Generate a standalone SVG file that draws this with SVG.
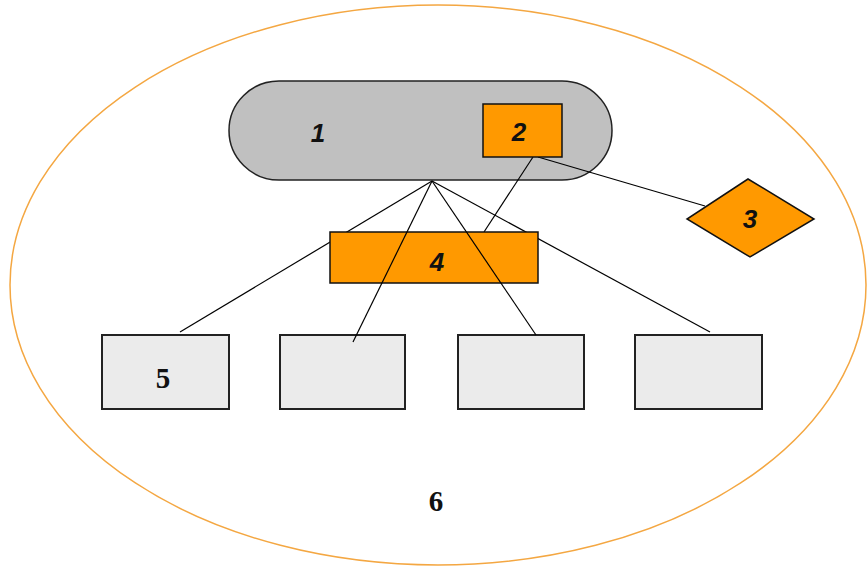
<svg xmlns="http://www.w3.org/2000/svg" width="867" height="567" viewBox="0 0 867 567">
<style>
.ln{stroke:#000;stroke-width:1.2;fill:none}
.box{fill:#ebebeb;stroke:#222;stroke-width:2}
.org{fill:#ff9900;stroke:#111;stroke-width:1.5}
.it{font-family:"Liberation Sans",Arial,sans-serif;font-style:italic;font-weight:bold;font-size:26px;fill:#111;text-anchor:middle}
.sf{font-family:"Liberation Serif","Times New Roman",serif;font-size:29px;font-weight:bold;fill:#111;text-anchor:middle}
</style>
<rect width="867" height="567" fill="#fff"/>
<g id="n6"><ellipse cx="438" cy="285" rx="428" ry="280" fill="none" stroke="#f4a742" stroke-width="1.5"/><text class="sf" x="436" y="511">6</text></g>
<g id="n1"><rect x="229" y="81" width="383" height="99" rx="50" ry="50" fill="#c0c0c0" stroke="#222" stroke-width="1.5"/><text class="it" x="318" y="142">1</text></g>
<g id="connectors-back">
<line class="ln" x1="432" y1="181" x2="180" y2="332"/>
<line class="ln" x1="432" y1="181" x2="710" y2="332"/>
<line class="ln" x1="533" y1="157" x2="484" y2="232"/>
<line class="ln" x1="538" y1="157" x2="705" y2="206"/>
</g>
<g id="n2"><rect class="org" x="483" y="104" width="79" height="53"/><text class="it" x="519" y="141" font-style="normal">2</text></g>
<g id="n3"><polygon class="org" points="748,179 814,219 750,257 687,219"/><text class="it" x="750" y="228">3</text></g>
<g id="n4"><rect class="org" x="330" y="232" width="208" height="51"/><text class="it" x="437" y="271">4</text></g>
<g id="n5"><rect class="box" x="102" y="335" width="127" height="74"/><text class="sf" x="163" y="388">5</text></g>
<g id="n7"><rect class="box" x="280" y="335" width="125" height="74"/></g>
<g id="n8"><rect class="box" x="458" y="335" width="126" height="74"/></g>
<g id="n9"><rect class="box" x="635" y="335" width="127" height="74"/></g>
<g id="connectors">
<line class="ln" x1="432" y1="181" x2="353" y2="342"/>
<line class="ln" x1="432" y1="181" x2="536" y2="335"/>
</g>
</svg>
